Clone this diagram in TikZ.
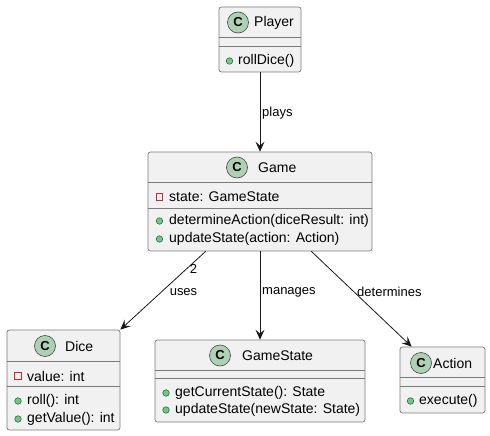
\documentclass[tikz,border=0pt]{standalone}
\usepackage{fontspec}
\setmainfont{Liberation Sans}
\usetikzlibrary{arrows.meta}

\definecolor{umlline}{HTML}{181818}
\definecolor{umlborder}{HTML}{7A7A7A}
\definecolor{umlfill}{HTML}{F1F1F1}
\definecolor{classmark}{HTML}{ADD1B2}
\definecolor{pubfill}{HTML}{84BE84}
\definecolor{publine}{HTML}{038048}
\definecolor{privline}{HTML}{C82930}

\tikzset{
  classbox/.style={draw=umlborder, fill=umlfill, line width=0.7pt, rounded corners=2.5pt,
    rectangle, inner sep=0pt},
  sep/.style={draw=umlborder, line width=0.7pt},
  cmark/.style={circle, draw=umlline!80, fill=classmark, line width=0.6pt,
    minimum size=21pt, inner sep=0pt, font=\fontsize{13}{13}\selectfont\bfseries},
  cname/.style={anchor=west, inner sep=0pt, font=\fontsize{14}{14}\selectfont},
  member/.style={anchor=west, inner sep=0pt, font=\fontsize{14}{14}\selectfont},
  pub/.style={circle, draw=publine, fill=pubfill, line width=0.6pt, minimum size=6.5pt, inner sep=0pt},
  priv/.style={rectangle, draw=privline, line width=1pt, minimum size=6.5pt, inner sep=0pt},
  assoc/.style={draw=umlline, line width=0.8pt, -{Stealth[length=10pt, width=9pt, inset=4pt]}},
  elabel/.style={inner sep=0pt, font=\fontsize{13}{13}\selectfont},
}

\begin{document}
\begin{tikzpicture}[x=1pt, y=-1pt]
\useasboundingbox (0,0) rectangle (490,436);

% ---------- Player ----------
\node[classbox, minimum width=82pt, minimum height=65pt] (player) at (260,39.5) {};
\draw[sep] (player.north west) ++(0,31) -- ++(82,0);
\draw[sep] (player.north west) ++(0,40) -- ++(82,0);
\node[cmark] (playerc) at (238,22.5) {C};
\node[cname] (playern) at (254,22.5) {Player};
\node[pub] (playerm1i) at (229.5,61) {};
\node[member] (playerm1) at (238,61) {rollDice()};

% ---------- Game ----------
\node[classbox, minimum width=224pt, minimum height=99pt] (game) at (260,201.5) {};
\draw[sep] (game.north west) ++(0,31) -- ++(224,0);
\draw[sep] (game.north west) ++(0,57) -- ++(224,0);
\node[cmark] (gamec) at (237,167.5) {C};
\node[cname] (gamen) at (258,167.5) {Game};
\node[priv] (gamea1i) at (159.5,197) {};
\node[member] (gamea1) at (169,197) {state: GameState};
\node[pub] (gamem1i) at (159.5,221) {};
\node[member] (gamem1) at (169,221) {determineAction(diceResult: int)};
\node[pub] (gamem2i) at (159.5,239) {};
\node[member] (gamem2) at (169,239) {updateState(action: Action)};

% ---------- Dice ----------
\node[classbox, minimum width=113pt, minimum height=100pt] (dice) at (63.5,380) {};
\draw[sep] (dice.north west) ++(0,32) -- ++(113,0);
\draw[sep] (dice.north west) ++(0,57) -- ++(113,0);
\node[cmark] (dicec) at (45,346) {C};
\node[cname] (dicen) at (65,346) {Dice};
\node[priv] (dicea1i) at (18,376) {};
\node[member] (dicea1) at (27,376) {value: int};
\node[pub] (dicem1i) at (18,401) {};
\node[member] (dicem1) at (27,401) {roll(): int};
\node[pub] (dicem2i) at (18,419) {};
\node[member] (dicem2) at (27,419) {getValue(): int};

% ---------- GameState ----------
\node[classbox, minimum width=210pt, minimum height=82pt] (gamestate) at (260,381) {};
\draw[sep] (gamestate.north west) ++(0,31) -- ++(210,0);
\draw[sep] (gamestate.north west) ++(0,39) -- ++(210,0);
\node[cmark] (gamestatec) at (220,355.5) {C};
\node[cname] (gamestaten) at (242,355.5) {GameState};
\node[pub] (gamestatem1i) at (166,393) {};
\node[member] (gamestatem1) at (175,393) {getCurrentState(): State};
\node[pub] (gamestatem2i) at (166,410) {};
\node[member] (gamestatem2) at (175,410) {updateState(newState: State)};

% ---------- Action ----------
\node[classbox, minimum width=85pt, minimum height=66pt] (action) at (442.5,380) {};
\draw[sep] (action.north west) ++(0,31) -- ++(85,0);
\draw[sep] (action.north west) ++(0,40) -- ++(85,0);
\node[cmark] (actionc) at (421,363) {C};
\node[cname] (actionn) at (433,363) {Action};
\node[pub] (actionm1i) at (410.5,401) {};
\node[member] (actionm1) at (419,401) {execute()};

% ---------- Associations ----------
\draw[assoc] (player) -- (game);
\node[elabel, anchor=west] (plays) at (262,113) {plays};

\draw[assoc] ([xshift=58pt]game.south west) -- (dice.north east);
\node[elabel] (dicemult) at (193.5,268.5) {2};
\node[elabel] (uses) at (183.5,292) {uses};

\draw[assoc] (game) -- (gamestate);
\node[elabel, anchor=west] (manages) at (262,292) {manages};

\draw[assoc] ([xshift=-61pt]game.south east) -- ([xshift=12pt]action.north west);
\node[elabel, anchor=west] (determines) at (357,292) {determines};
\end{tikzpicture}
\end{document}
